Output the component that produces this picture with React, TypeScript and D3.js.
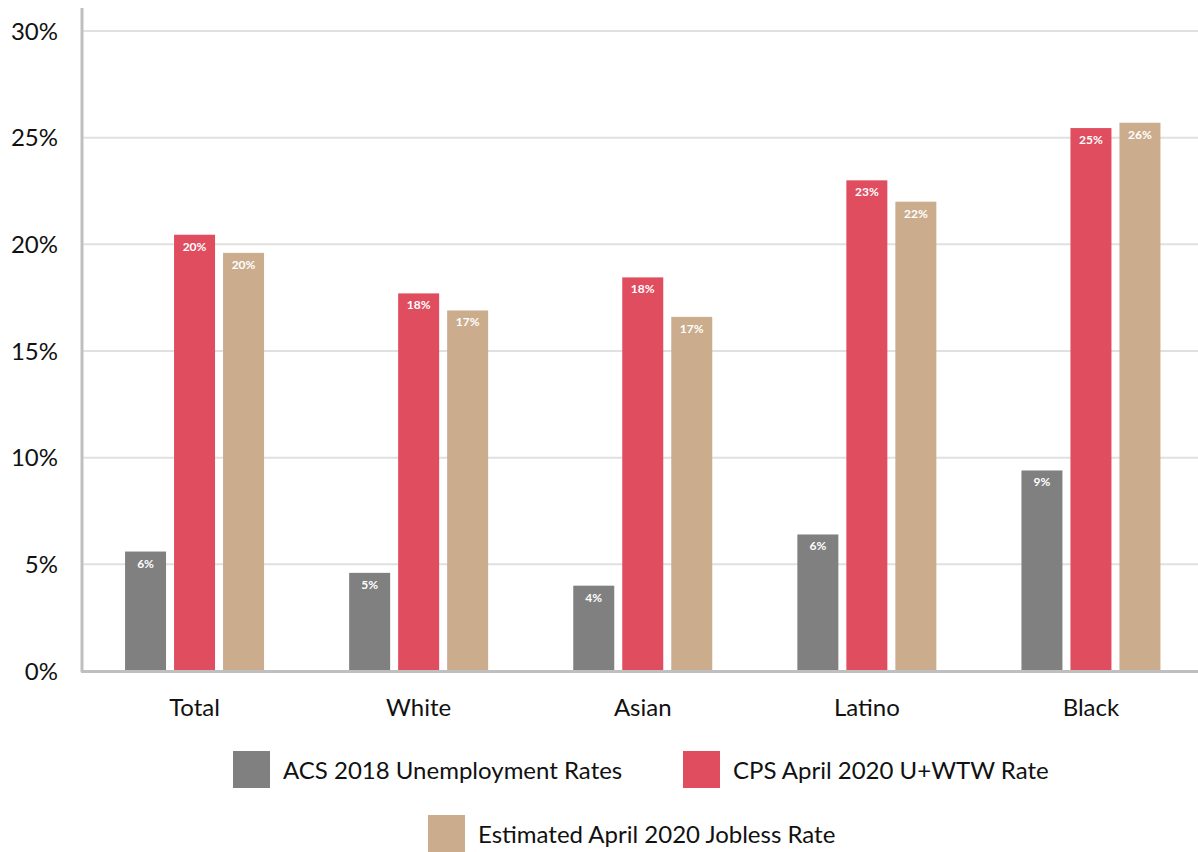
import React from "react";
import * as d3 from "d3";

const categories = ["Total", "White", "Asian", "Latino", "Black"];
const seriesNames = [
  "ACS 2018 Unemployment Rates",
  "CPS April 2020 U+WTW Rate",
  "Estimated April 2020 Jobless Rate",
];
const acs2018 = [5.6, 4.6, 4.0, 6.4, 9.4];
const cps2020 = [20.45, 17.7, 18.45, 23.0, 25.45];
const est2020 = [19.6, 16.9, 16.6, 22.0, 25.7];
const yTicks = [0, 5, 10, 15, 20, 25, 30];
const colors = ["#808080", "#e04d5f", "#cbad8e"];

const W = 1198;
const H = 852;
const FONT = "Lato, 'Noto Sans', sans-serif";

export default function App() {
  const series = [acs2018, cps2020, est2020];
  const y = d3.scaleLinear().domain([0, 30]).range([671, 31]);
  const x0 = d3.scaleBand<string>().domain(categories).range([82.5, 1203]);
  const x1 = d3
    .scaleBand<string>()
    .domain(seriesNames)
    .range([-69.5, 69.5])
    .paddingInner(8 / 49)
    .paddingOuter(0);

  const legendItems = [
    { name: seriesNames[0], x: 233, y: 751, color: colors[0] },
    { name: seriesNames[1], x: 683, y: 751, color: colors[1] },
    { name: seriesNames[2], x: 428, y: 815, color: colors[2] },
  ];

  return (
    <svg width={W} height={H} style={{ display: "block", position: "absolute", left: 0, top: 0 }} fontFamily={FONT}>
      <rect width={W} height={H} fill="#ffffff" />
      {yTicks.map((t) => (
        <g key={t}>
          {t > 0 && (
            <line x1={83} x2={W} y1={y(t)} y2={y(t)} stroke="#e0e0e0" strokeWidth={2} />
          )}
          <text x={58} y={y(t)} dy="0.36em" textAnchor="end" fontSize={24} fill="#111">
            {t}%
          </text>
        </g>
      ))}
      {categories.map((c, i) => {
        const cx = (x0(c) as number) + x0.bandwidth() / 2;
        return (
          <g key={c}>
            {series.map((s, j) => {
              const bx = cx + (x1(seriesNames[j]) as number);
              const top = y(s[i]);
              return (
                <g key={j}>
                  <rect x={bx} y={top} width={x1.bandwidth()} height={y(0) - top} fill={colors[j]} />
                  <text
                    x={bx + x1.bandwidth() / 2}
                    y={top + 16}
                    textAnchor="middle"
                    fontSize={12}
                    fontWeight={700}
                    fill="#ffffff"
                  >
                    {Math.round(s[i])}%
                  </text>
                </g>
              );
            })}
            <text x={cx} y={716} textAnchor="middle" fontSize={24} fill="#111">
              {c}
            </text>
          </g>
        );
      })}
      <line x1={82} x2={82} y1={8} y2={672} stroke="#bfbfbf" strokeWidth={3} />
      <line x1={81} x2={W} y1={671.5} y2={671.5} stroke="#bfbfbf" strokeWidth={3} />
      {legendItems.map((l) => (
        <g key={l.name}>
          <rect x={l.x} y={l.y} width={37} height={37} fill={l.color} />
          <text x={l.x + 50} y={l.y + 19} dy="0.36em" fontSize={24} fill="#111">
            {l.name}
          </text>
        </g>
      ))}
    </svg>
  );
}
